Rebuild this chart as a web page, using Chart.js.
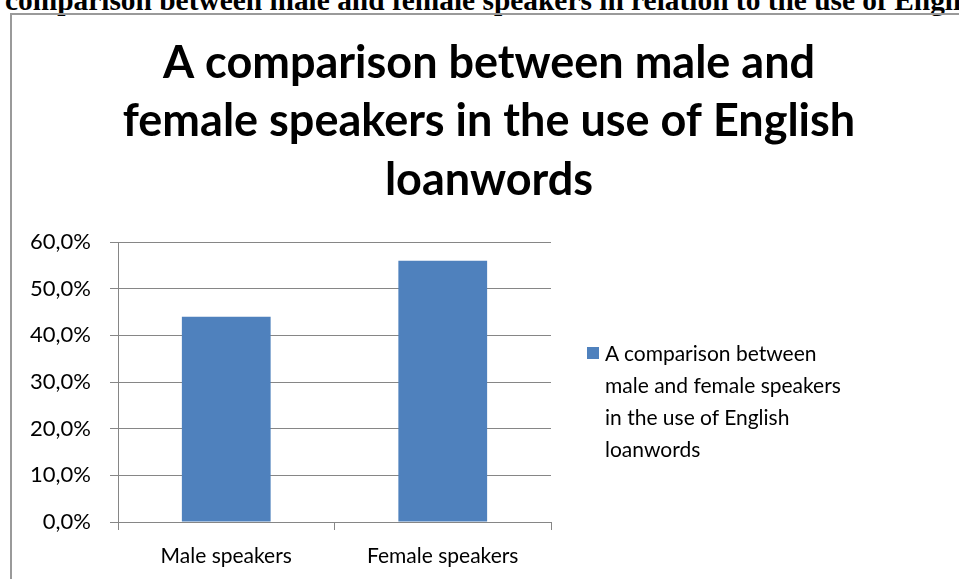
<!DOCTYPE html>
<html>
<head>
<meta charset="utf-8">
<script src="https://cdn.jsdelivr.net/npm/chart.js@4"></script>
<style>
  html, body { margin: 0; padding: 0; background: #fff; overflow: hidden; width: 959px; height: 579px; }
  #caption {
    position: absolute; left: -22px; top: -14px;
    font: bold 29.4px 'Liberation Serif', 'Times New Roman', serif;
    line-height: 29px; white-space: nowrap; color: #000;
  }
  #frame {
    position: absolute; left: 10px; top: 13px; width: 1000px; height: 700px;
    border: 2px solid #9a9a9a; box-sizing: border-box;
  }
  #wrap { position: absolute; left: 11px; top: 14px; width: 956px; height: 565px; }
  #legend {
    position: absolute; left: 587px; top: 337px;
    font: 21px Lato, sans-serif; line-height: 32px; color: #000;
    display: flex; align-items: flex-start;
  }
  #legend .box { width: 12px; height: 12px; margin-top: 10px; margin-right: 6px; flex: none; }
  #legend .txt { width: 246px; }
</style>
</head>
<body>
<div id="caption">A comparison between male and female speakers in relation to the use of English loanwords</div>
<div id="frame"></div>
<div id="wrap"><canvas id="chart" width="956" height="565"></canvas></div>
<div id="legend"></div>
<script>
// data
const categories = ['Male speakers', 'Female speakers'];
const shares = [0.44, 0.56];
const seriesLabel = 'A comparison between male and female speakers in the use of English loanwords';
const titleLines = ['A comparison between male and', 'female speakers in the use of English', 'loanwords'];
const yTicks = [0, 0.1, 0.2, 0.3, 0.4, 0.5, 0.6];

const barColor = '#4F81BD';
const gridColor = '#868686';

const chart = new Chart(document.getElementById('chart'), {
  type: 'bar',
  data: {
    labels: categories,
    datasets: [{
      label: seriesLabel,
      data: shares,
      backgroundColor: barColor,
      categoryPercentage: 1,
      barPercentage: 0.41,
    }],
  },
  options: {
    responsive: false,
    animation: false,
    plugins: {
      legend: { display: false },
      tooltip: { enabled: false },
      title: {
        display: true,
        text: titleLines,
        color: '#000',
        font: { family: 'Lato', size: 45, weight: 'bold', lineHeight: 1.3 },
        padding: { top: 20, bottom: 32.5 },
      },
    },
    scales: {
      x: {
        grid: { drawOnChartArea: false, color: gridColor, tickLength: 8, offset: true },
        border: { color: gridColor },
        ticks: { color: '#000', font: { family: 'Lato', size: 21 }, padding: 14 },
        afterFit: (s) => { s.height = 57; },
      },
      y: {
        min: 0,
        max: 0.6,
        afterBuildTicks: (s) => { s.ticks = yTicks.map(v => ({ value: v })); },
        grid: { color: gridColor, tickLength: 8 },
        border: { color: gridColor },
        ticks: {
          color: '#000',
          font: { family: 'Lato', size: 22 },
          padding: 19,
          callback: (v) => (v * 100).toFixed(1).replace('.', ',') + '%',
        },
        afterFit: (s) => { s.width = 107; },
      },
      // empty right axis that keeps room for the legend
      side: {
        type: 'linear',
        position: 'right',
        grid: { display: false },
        border: { display: false },
        ticks: { display: false },
        afterFit: (s) => { s.width = 416; },
      },
    },
  },
});

// legend built from the dataset
const ds = chart.data.datasets[0];
document.getElementById('legend').innerHTML =
  '<span class="box" style="background:' + ds.backgroundColor + '"></span><span class="txt">' + ds.label + '</span>';
</script>
</body>
</html>
